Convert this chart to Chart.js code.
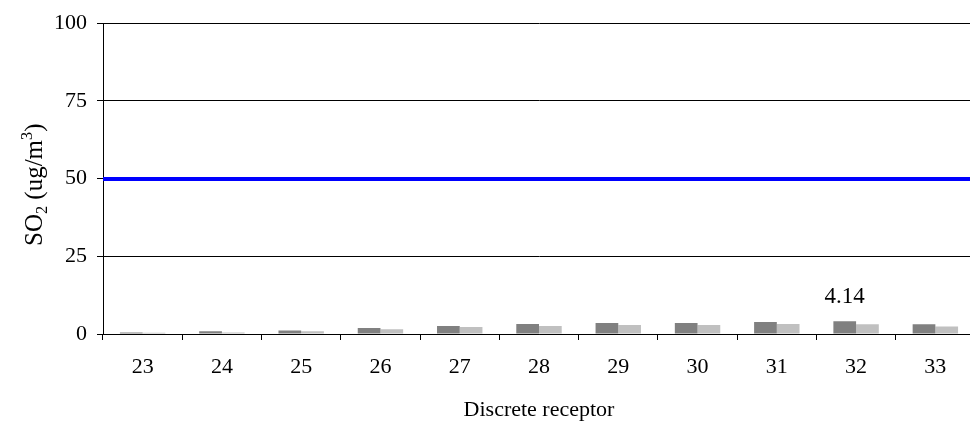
<!DOCTYPE html>
<html>
<head>
<meta charset="utf-8">
<script src="https://cdn.jsdelivr.net/npm/chart.js@4/dist/chart.umd.min.js"></script>
<style>
  html, body { margin: 0; padding: 0; background: #fff; overflow: hidden; }
  #wrap { width: 970px; height: 429px; overflow: hidden; }
</style>
</head>
<body>
<div id="wrap"><canvas id="so2Chart" width="975" height="429"></canvas></div>
<script>
const receptors = ['23', '24', '25', '26', '27', '28', '29', '30', '31', '32', '33'];
const seriesA = [0.5, 0.85, 1.15, 1.9, 2.55, 3.2, 3.5, 3.5, 3.85, 4.14, 3.1];
const seriesB = [0.43, 0.5, 0.85, 1.5, 2.25, 2.55, 2.9, 2.9, 3.2, 3.1, 2.45];
const standardLimit = 50;
const yTicks = [0, 25, 50, 75, 100];
const labelledReceptors = ['32'];

const FONT = 'Liberation Serif, Times New Roman, serif';

// axis title with subscript / superscript
const yTitlePlugin = {
    id: 'yTitle',
    afterDraw(chart) {
        const ctx = chart.ctx;
        const size = 25;
        ctx.save();
        ctx.translate(42, 246);
        ctx.rotate(-Math.PI / 2);
        ctx.fillStyle = '#000';
        ctx.textBaseline = 'alphabetic';
        ctx.textAlign = 'left';
        let x = 0;
        const part = (txt, fs, dy) => {
            ctx.font = fs + 'px ' + FONT;
            ctx.fillText(txt, x, dy);
            x += ctx.measureText(txt).width;
        };
        part('SO', size, 0);
        part('2', size * 0.65, size * 0.2);
        part(' (ug/m', size, 0);
        part('3', size * 0.65, -size * 0.42);
        part(')', size, 0);
        ctx.restore();
    }
};

// horizontal standard line, placed with the y scale
const limitLinePlugin = {
    id: 'limitLine',
    afterDatasetsDraw(chart) {
        const { ctx, chartArea, scales } = chart;
        const y = scales.y.getPixelForValue(standardLimit) + 0.5;
        ctx.save();
        ctx.strokeStyle = '#0000ff';
        ctx.lineWidth = 4;
        ctx.beginPath();
        ctx.moveTo(chartArea.left, y);
        ctx.lineTo(chartArea.right, y);
        ctx.stroke();
        ctx.restore();
    }
};

const valueLabelPlugin = {
    id: 'valueLabel',
    afterDatasetsDraw(chart) {
        const ctx = chart.ctx;
        const meta = chart.getDatasetMeta(0);
        ctx.save();
        ctx.font = '23px ' + FONT;
        ctx.fillStyle = '#000';
        ctx.textAlign = 'center';
        ctx.textBaseline = 'alphabetic';
        labelledReceptors.forEach(r => {
            const i = receptors.indexOf(r);
            const bar = meta.data[i];
            ctx.fillText(seriesA[i].toFixed(2), bar.x, bar.y - 18);
        });
        ctx.restore();
    }
};

const ctx = document.getElementById('so2Chart').getContext('2d');
new Chart(ctx, {
    type: 'bar',
    data: {
        labels: receptors,
        datasets: [{
            label: 'Series 1',
            data: seriesA,
            backgroundColor: '#808080',
            barPercentage: 1,
            categoryPercentage: 0.573
        }, {
            label: 'Series 2',
            data: seriesB,
            backgroundColor: '#c0c0c0',
            barPercentage: 1,
            categoryPercentage: 0.573
        }]
    },
    options: {
        responsive: false,
        animation: false,
        layout: { padding: { top: 20, left: 0, right: 0, bottom: 0 } },
        plugins: {
            legend: { display: false },
            tooltip: { enabled: false }
        },
        scales: {
            x: {
                offset: true,
                grid: {
                    offset: true,
                    drawOnChartArea: false,
                    drawTicks: true,
                    tickLength: 6,
                    color: '#000'
                },
                border: { color: '#000', width: 1 },
                ticks: {
                    color: '#000',
                    padding: 14,
                    maxRotation: 0,
                    font: { family: FONT, size: 22 }
                },
                title: {
                    display: true,
                    text: 'Discrete receptor',
                    color: '#000',
                    font: { family: FONT, size: 22 },
                    padding: { top: 0, bottom: 6 }
                },
                afterFit(scale) { scale.height = 95; }
            },
            y: {
                min: 0,
                max: 100,
                afterBuildTicks(scale) { scale.ticks = yTicks.map(v => ({ value: v })); },
                grid: {
                    color: '#000',
                    lineWidth: 1,
                    drawTicks: true,
                    tickLength: 6
                },
                border: { color: '#000', width: 1 },
                ticks: {
                    color: '#000',
                    padding: 10,
                    font: { family: FONT, size: 22 }
                },
                afterFit(scale) { scale.width = 103; }
            }
        }
    },
    plugins: [yTitlePlugin, limitLinePlugin, valueLabelPlugin]
});
</script>
</body>
</html>
